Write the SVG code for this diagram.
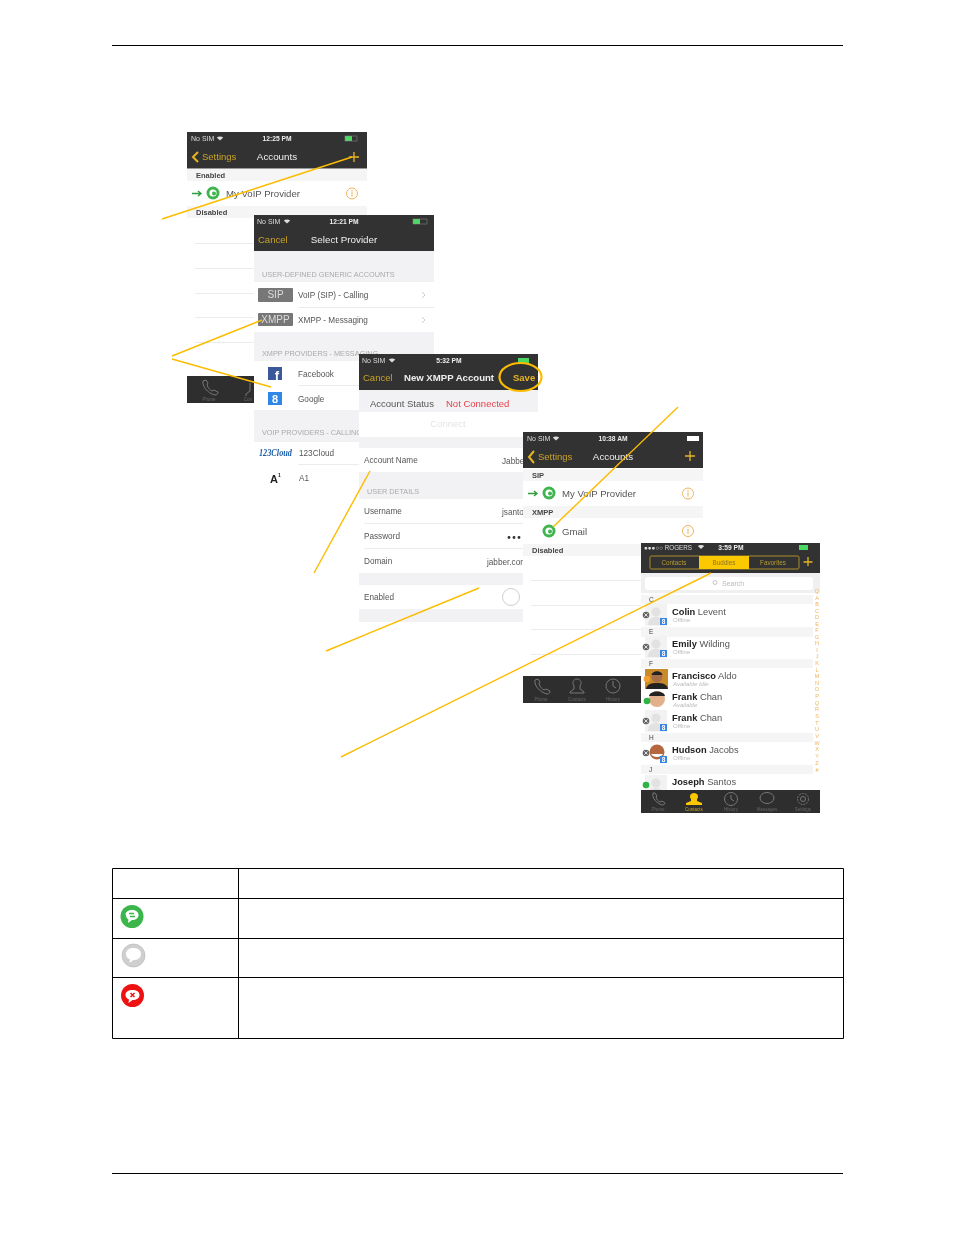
<svg xmlns="http://www.w3.org/2000/svg" xmlns:xlink="http://www.w3.org/1999/xlink" width="954" height="1235" viewBox="0 0 954 1235">
<style>
text{font-family:"Liberation Sans",Arial,sans-serif;fill:#444}
.st{font-size:7px;fill:#ddd}
.stb{font-size:6.700px;fill:#eee;font-weight:bold;text-anchor:middle}
.ti{font-size:9.800px;fill:#eee;text-anchor:middle}
.y{font-size:9.500px;fill:#c9a227}
.sec{font-size:7.500px;fill:#444;font-weight:bold}
.gh{font-size:7.300px;fill:#aaa}
.r{font-size:8.200px;fill:#555}
.rb{font-size:9.600px;fill:#555}
.tab{font-size:4.500px;fill:#666;text-anchor:middle}
.nm{font-size:9.300px;fill:#555}
.b{font-weight:bold;fill:#222}
.sub{font-size:6px;fill:#bbb}
.az{font-size:5.500px;fill:#f0b45a;text-anchor:middle}
.dark{fill:#333}
.bar{fill:#2e2e2e}
.sep{stroke:#ececec;stroke-width:1;fill:none}
.co{stroke:#fcbc00;stroke-width:1.400;fill:none}
.tb{stroke:#000;stroke-width:1;fill:none}
.ic{stroke:#777;stroke-width:1;fill:none}
.plus{stroke:#e6b422;stroke-width:1.300;fill:none}
.soft{filter:url(#soft)}
</style>
<defs>
<filter id="soft" x="-2%" y="-2%" width="104%" height="104%"><feGaussianBlur stdDeviation="0.35"/></filter>
<g id="wifi"><path d="M0 3L-3.200 0C-1.500-1.500 1.500-1.500 3.200 0Z" fill="#ddd"/></g>
<g id="info"><circle r="5.500" fill="#fff" stroke="#f2b25c" stroke-width="1"/><rect x="-.5" y="-2" width="1" height="5" fill="#f2b25c"/><rect x="-.5" y="-3.600" width="1" height="1" fill="#f2b25c"/></g>
<g id="gicon"><circle r="6.500" fill="#3fb44f"/><circle r="3.600" fill="#fff"/><circle cx="1" cy=".5" r="2" fill="#3fb44f"/></g>
<g id="avatar"><rect x="-11" y="-11" width="22" height="22" fill="#f2f2f2"/><circle cy="-3" r="4.500" fill="#e2e2e2"/><path d="M-8 10c0-6 4-8 8-8s8 2 8 8z" fill="#e2e2e2"/></g>
<g id="off"><circle r="3.300" fill="#666"/><path d="M-1.600-1.600l3.200 3.200M1.600-1.600l-3.200 3.200" stroke="#fff" stroke-width=".8"/></g>
<g id="gbadge"><rect width="7" height="7" fill="#3b86e0"/><text x="3.500" y="6" style="font-size:6.500px;fill:#fff;font-weight:bold;text-anchor:middle">8</text></g>
</defs>
<rect width="954" height="1235" fill="#fff"/>
<path d="M112 45.500H843M112 1173.500H843" stroke="#000" stroke-width="1"/>

<g id="screen-accounts-1" class="soft">
<rect x="187" y="132" width="180" height="36" class="dark"/>
<rect x="187" y="168" width="180" height="1" fill="#999"/>
<text class="st" x="191" y="141">No SIM</text>
<use xlink:href="#wifi" x="220" y="137.500"/>
<text class="stb" x="277" y="141">12:25 PM</text>
<rect x="345" y="136" width="7" height="5" fill="#4cd964"/><rect x="345" y="136" width="12" height="5" fill="none" stroke="#888" stroke-width=".5"/>
<path d="M198 152l-5 5 5 5" fill="none" stroke="#e6b422" stroke-width="2"/>
<text class="y" x="202" y="160">Settings</text>
<text class="ti" x="277" y="160">Accounts</text>
<path class="plus" d="M354 152v10M349 157h10"/>
<rect x="187" y="169" width="180" height="12" fill="#f5f5f5"/>
<text class="sec" x="196" y="178">Enabled</text>
<path d="M192 193.500h8M198 191l3 2.500-3 2.500" fill="none" stroke="#2e9e3e" stroke-width="1.400"/>
<use xlink:href="#gicon" x="213" y="193"/>
<text class="rb" x="226" y="197">My VoIP Provider</text>
<use xlink:href="#info" x="352" y="193.500"/>
<rect x="187" y="206" width="180" height="12" fill="#f5f5f5"/>
<text class="sec" x="196" y="215">Disabled</text>
<path class="sep" d="M195 243.500H254M195 268.500H254M195 293.500H254M195 317.500H254M195 342.500H254"/>
<rect x="187" y="376" width="67" height="27" class="bar"/>
<path class="ic" d="M203 381c-1 5 4 12 12 14 2 0 3-1 3-3l-4-2-2 1c-2-1-4-3-5-6l1-2-2-3z"/>
<text class="tab" x="209" y="401">Phone</text>
<path class="ic" d="M246 396v-2l4-3v-8"/>
<text class="tab" x="248" y="401">Con</text>
</g>

<g id="screen-select-provider" class="soft">
<rect x="254" y="215" width="180" height="300" fill="#fff"/>
<rect x="254" y="215" width="180" height="36" class="dark"/>
<rect x="254" y="251" width="180" height="31" fill="#f2f2f4"/>
<text class="st" x="257" y="224">No SIM</text>
<use xlink:href="#wifi" x="287" y="220.500"/>
<text class="stb" x="344" y="224">12:21 PM</text>
<rect x="413" y="219" width="7" height="5" fill="#4cd964"/><rect x="413" y="219" width="14" height="5" fill="none" stroke="#888" stroke-width=".5"/>
<text class="y" x="258" y="243">Cancel</text>
<text class="ti" x="344" y="243">Select Provider</text>
<text class="gh" x="262" y="277">USER-DEFINED GENERIC ACCOUNTS</text>
<rect x="258" y="288" width="35" height="14" rx="1" fill="#777"/>
<text x="275.500" y="298" style="font-size:10px;fill:#ddd;text-anchor:middle">SIP</text>
<text class="r" x="298" y="298">VoIP (SIP) - Calling</text>
<path d="M422 292l3 3-3 3" fill="none" stroke="#ccc"/>
<path class="sep" d="M298 307.500H434"/>
<rect x="258" y="313" width="35" height="13" rx="1" fill="#777"/>
<text x="275.500" y="323" style="font-size:10px;fill:#ddd;text-anchor:middle">XMPP</text>
<text class="r" x="298" y="323">XMPP - Messaging</text>
<path d="M422 317l3 3-3 3" fill="none" stroke="#ccc"/>
<rect x="254" y="332" width="180" height="29" fill="#f2f2f4"/>
<text class="gh" x="262" y="356">XMPP PROVIDERS - MESSAGING</text>
<rect x="268" y="367" width="14" height="13" fill="#3b5998"/>
<text x="277" y="380" style="font-size:13px;fill:#fff;font-weight:bold;text-anchor:middle">f</text>
<text class="r" x="298" y="377">Facebook</text>
<path class="sep" d="M298 385.500H434"/>
<rect x="268" y="392" width="14" height="13" fill="#2f86e6"/>
<text x="275" y="403" style="font-size:11px;fill:#fff;font-weight:bold;text-anchor:middle">8</text>
<text class="r" x="298" y="402">Google</text>
<rect x="254" y="410" width="180" height="32" fill="#f2f2f4"/>
<text class="gh" x="262" y="435">VOIP PROVIDERS - CALLING</text>
<text x="259" y="456" textLength="33" lengthAdjust="spacingAndGlyphs" style="font-size:9.500px;fill:#1f5fa8;font-style:italic;font-weight:bold;font-family:'Liberation Serif',serif">123Cloud</text>
<text class="r" x="299" y="456">123Cloud</text>
<path class="sep" d="M298 464.500H434"/>
<text x="270" y="483" style="font-size:11px;fill:#222;font-weight:bold">A</text>
<text x="278" y="477" style="font-size:5px;fill:#222;font-weight:bold">1</text>
<text class="r" x="299" y="481">A1</text>
</g>

<g id="screen-new-xmpp" class="soft">
<rect x="359" y="354" width="179" height="268" fill="#f2f2f4"/>
<rect x="359" y="354" width="179" height="36" class="dark"/>
<text class="st" x="362" y="363">No SIM</text>
<use xlink:href="#wifi" x="392" y="359.500"/>
<text class="stb" x="449" y="363">5:32 PM</text>
<rect x="518" y="358" width="11" height="5" fill="#4cd964"/>
<text class="y" x="363" y="381">Cancel</text>
<text class="ti" x="449" y="381" style="font-weight:600;font-size:9.600px">New XMPP Account</text>
<text class="y" x="513" y="381" style="font-weight:bold;fill:#e6b422">Save</text>
<text class="r" x="370" y="407" style="font-size:9.500px">Account Status</text>
<text class="r" x="446" y="407" style="font-size:9.500px;fill:#e8404a">Not Connected</text>
<rect x="359" y="412" width="179" height="25" fill="#fff"/>
<text x="448" y="427" style="font-size:9.500px;fill:#e4e4e4;text-anchor:middle">Connect</text>
<rect x="359" y="448" width="179" height="24" fill="#fff"/>
<text class="r" x="364" y="463">Account Name</text>
<text class="r" x="502" y="464">Jabber</text>
<text class="gh" x="367" y="494">USER DETAILS</text>
<rect x="359" y="499" width="179" height="74" fill="#fff"/>
<path class="sep" d="M364 523.500H538M364 548.500H538"/>
<text class="r" x="364" y="514">Username</text>
<text class="r" x="502" y="515">jsantos</text>
<text class="r" x="364" y="539">Password</text>
<circle cx="509" cy="537.500" r="1.400" fill="#333"/><circle cx="514" cy="537.500" r="1.400" fill="#333"/><circle cx="519" cy="537.500" r="1.400" fill="#333"/>
<text class="r" x="364" y="564">Domain</text>
<text class="r" x="487" y="565">jabber.com</text>
<rect x="359" y="585" width="179" height="24" fill="#fff"/>
<text class="r" x="364" y="600">Enabled</text>
<circle cx="511" cy="597" r="8.500" fill="#fff" stroke="#cfcfcf"/>
</g>

<g id="screen-accounts-2" class="soft">
<rect x="523" y="432" width="180" height="271" fill="#fff"/>
<rect x="523" y="432" width="180" height="36" class="dark"/>
<text class="st" x="527" y="441">No SIM</text>
<use xlink:href="#wifi" x="556" y="437.500"/>
<text class="stb" x="613" y="441">10:38 AM</text>
<rect x="687" y="436" width="12" height="5" fill="#fff"/>
<path d="M534 451l-5 6 5 6" fill="none" stroke="#e6b422" stroke-width="2"/>
<text class="y" x="538" y="460">Settings</text>
<text class="ti" x="613" y="460">Accounts</text>
<path class="plus" d="M690 451v10M685 456h10"/>
<rect x="523" y="469" width="180" height="12" fill="#f5f5f5"/>
<text class="sec" x="532" y="478">SIP</text>
<path d="M528 493.500h8M534 491l3 2.500-3 2.500" fill="none" stroke="#2e9e3e" stroke-width="1.400"/>
<use xlink:href="#gicon" x="549" y="493"/>
<text class="rb" x="562" y="497">My VoIP Provider</text>
<use xlink:href="#info" x="688" y="493.500"/>
<rect x="523" y="506" width="180" height="12" fill="#f5f5f5"/>
<text class="sec" x="532" y="515">XMPP</text>
<use xlink:href="#gicon" x="549" y="531"/>
<text class="rb" x="562" y="535">Gmail</text>
<use xlink:href="#info" x="688" y="531"/>
<rect x="523" y="544" width="118" height="12" fill="#f5f5f5"/>
<text class="sec" x="532" y="553">Disabled</text>
<path class="sep" d="M531 580.500H641M531 605.500H641M531 629.500H641M531 654.500H641"/>
<rect x="523" y="676" width="118" height="27" class="bar"/>
<path class="ic" d="M535 680c-1 5 4 12 12 14 2 0 3-1 3-3l-4-2-2 1c-2-1-4-3-5-6l1-2-2-3z"/>
<text class="tab" x="541" y="701">Phone</text>
<path class="ic" d="M570 693v-1l4-3v-3c-2-3-1-7 3-7s5 4 3 7v3l4 3v1z"/>
<text class="tab" x="577" y="701">Contacts</text>
<circle class="ic" cx="613" cy="686" r="7"/><path class="ic" d="M613 681v5l3 2"/>
<text class="tab" x="613" y="701">History</text>
</g>

<g id="screen-buddies" class="soft">
<rect x="641" y="543" width="179" height="270" fill="#fff"/>
<rect x="641" y="543" width="179" height="30" class="dark"/>
<text class="st" x="644" y="550" style="font-size:6.300px">●●●○○ ROGERS</text>
<use xlink:href="#wifi" x="701" y="546"/>
<text class="stb" x="731" y="550">3:59 PM</text>
<rect x="799" y="545" width="9" height="5" fill="#4cd964"/>
<rect x="650" y="556" width="149" height="13" rx="1.500" fill="#333" stroke="#c9a227" stroke-width=".8"/>
<rect x="699" y="556" width="50" height="13" fill="#fcc800"/>
<text x="674" y="565" style="font-size:6.300px;fill:#b59a30;text-anchor:middle">Contacts</text>
<text x="724" y="565" style="font-size:6.300px;fill:#8a7420;text-anchor:middle">Buddies</text>
<text x="773" y="565" style="font-size:6.300px;fill:#b59a30;text-anchor:middle">Favorites</text>
<path class="plus" d="M808 557v9M803.500 562h9"/>
<rect x="641" y="573" width="179" height="20" fill="#f0f0f2"/>
<rect x="645" y="577" width="168" height="13" rx="3" fill="#fff"/>
<circle cx="715" cy="582.500" r="2" fill="none" stroke="#aaa" stroke-width=".7"/>
<text x="722" y="586" style="font-size:7px;fill:#bbb">Search</text>
<g id="bands" fill="#f5f5f5"><rect x="641" y="595" width="172" height="9"/><rect x="641" y="627" width="172" height="10"/><rect x="641" y="659" width="172" height="9"/><rect x="641" y="733" width="172" height="9"/><rect x="641" y="765" width="172" height="9"/></g>
<g style="font-size:6.500px"><text x="649" y="602" style="fill:#444">C</text><text x="649" y="634" style="fill:#444">E</text><text x="649" y="666" style="fill:#444">F</text><text x="649" y="740" style="fill:#444">H</text><text x="649" y="772" style="fill:#444">J</text></g>
<use xlink:href="#avatar" x="656" y="615"/><use xlink:href="#off" x="646" y="615"/><use xlink:href="#gbadge" x="660" y="618"/>
<text class="nm" x="672" y="615"><tspan class="b">Colin</tspan> Levent</text><text class="sub" x="673" y="622">Offline</text>
<use xlink:href="#avatar" x="656" y="647"/><use xlink:href="#off" x="646" y="647"/><use xlink:href="#gbadge" x="660" y="650"/>
<text class="nm" x="672" y="647"><tspan class="b">Emily</tspan> Wilding</text><text class="sub" x="673" y="654">Offline</text>
<rect x="645" y="669" width="23" height="20" fill="#c98a2a"/><circle cx="657" cy="677" r="5.500" fill="#a8704a"/><path d="M651.500 675c1-5 10-5 11 0z" fill="#222"/><path d="M646 689c1-5 5-6 11-6s10 1 11 6z" fill="#222"/><circle cx="647" cy="679" r="3.300" fill="#f0a030"/>
<text class="nm" x="672" y="679"><tspan class="b">Francisco</tspan> Aldo</text><text class="sub" x="673" y="686" style="font-style:italic">Available Idle</text>
<circle cx="657" cy="699" r="8" fill="#e3b08c"/><path d="M649 696c1-6 15-6 16 0z" fill="#222"/><circle cx="647" cy="701" r="3.300" fill="#2fb344"/>
<text class="nm" x="672" y="700"><tspan class="b">Frank</tspan> Chan</text><text class="sub" x="673" y="707" style="font-style:italic">Available</text>
<use xlink:href="#avatar" x="656" y="721"/><use xlink:href="#off" x="646" y="721"/><use xlink:href="#gbadge" x="660" y="724"/>
<text class="nm" x="672" y="721"><tspan class="b">Frank</tspan> Chan</text><text class="sub" x="673" y="728">Offline</text>
<circle cx="657" cy="752" r="7.500" fill="#b5683f"/><path d="M651 754c2 4 10 4 12 0z" fill="#fff"/><use xlink:href="#off" x="646" y="753"/><use xlink:href="#gbadge" x="660" y="756"/>
<text class="nm" x="672" y="753"><tspan class="b">Hudson</tspan> Jacobs</text><text class="sub" x="673" y="760">Offline</text>
<use xlink:href="#avatar" x="656" y="786"/><circle cx="646" cy="785" r="3.300" fill="#2fb344"/>
<text class="nm" x="672" y="785"><tspan class="b">Joseph</tspan> Santos</text>
<g id="index">
<text class="az" x="817" y="593">Q</text><text class="az" x="817" y="600">A</text><text class="az" x="817" y="606">B</text><text class="az" x="817" y="613">C</text><text class="az" x="817" y="619">D</text><text class="az" x="817" y="626">E</text><text class="az" x="817" y="632">F</text><text class="az" x="817" y="639">G</text><text class="az" x="817" y="645">H</text><text class="az" x="817" y="652">I</text><text class="az" x="817" y="658">J</text><text class="az" x="817" y="665">K</text><text class="az" x="817" y="672">L</text><text class="az" x="817" y="678">M</text><text class="az" x="817" y="685">N</text><text class="az" x="817" y="691">O</text><text class="az" x="817" y="698">P</text><text class="az" x="817" y="705">Q</text><text class="az" x="817" y="711">R</text><text class="az" x="817" y="718">S</text><text class="az" x="817" y="725">T</text><text class="az" x="817" y="731">U</text><text class="az" x="817" y="738">V</text><text class="az" x="817" y="745">W</text><text class="az" x="817" y="751">X</text><text class="az" x="817" y="758">Y</text><text class="az" x="817" y="765">Z</text><text class="az" x="817" y="772">#</text>
</g>
<rect x="641" y="790" width="179" height="23" class="bar"/>
<path class="ic" d="M653 793c-1 5 3 10 9 12 2 0 3-1 3-2l-3-2-2 1c-2-1-3-2-4-5l1-1-2-3z"/>
<text class="tab" x="658" y="811">Phone</text>
<path d="M686 805v-2l5-2v-2c-2-2-1-6 3-6s5 4 3 6v2l5 2v2z" fill="#fcc800"/>
<text class="tab" x="694" y="811" style="fill:#c9a227">Contacts</text>
<circle class="ic" cx="731" cy="799" r="6.500"/><path class="ic" d="M731 795v4l3 2"/>
<text class="tab" x="731" y="811">History</text>
<ellipse class="ic" cx="767" cy="798" rx="7" ry="5.500"/>
<text class="tab" x="767" y="811">Messages</text>
<circle class="ic" cx="803" cy="799" r="5.500" stroke-dasharray="2 1"/><circle class="ic" cx="803" cy="799" r="2.500"/>
<text class="tab" x="803" y="811">Settings</text>
</g>

<g id="connectors">
<path class="co" d="M162 219L352 157"/>
<path class="co" d="M172 356L262 320"/>
<path class="co" d="M172 359L271 387"/>
<path class="co" d="M314 573L370 471"/>
<path class="co" d="M326 651L479 588"/>
<path class="co" d="M678 407L553 527"/>
<path class="co" d="M341 757L711 573"/>
<ellipse cx="520.500" cy="377" rx="21" ry="14" fill="none" stroke="#fcbc00" stroke-width="2.200"/>
</g>

<g id="status-table">
<path class="tb" d="M112.500 868.500H843.500V1038.500H112.500ZM112.500 898.500H843.500M112.500 938.500H843.500M112.500 977.500H843.500M238.500 868.500V1038.500"/>
<g id="icon-available"><circle cx="132" cy="916.500" r="11.500" fill="#3cb54a"/><path d="M125.500 915c0-3.500 3-5 6.500-5s6.500 1.500 6.500 5-3 5-6.500 5l-4 3 .5-3.500c-1.500-1-2.500-2.500-2.500-4.500z" fill="#fff"/><path d="M129 913.500h5M135 916.500h-5" stroke="#3cb54a" stroke-width="1.300"/></g>
<g id="icon-offline"><circle cx="133.500" cy="955.500" r="11.500" fill="#cfcfcf" stroke="#b5b5b5" stroke-width=".6"/><path d="M126 954c0-4 3.500-6 7.500-6s7.500 2 7.500 6-3.500 6-7.500 6l-4 3 .5-3.500c-2.500-1-4-3-4-5.500z" fill="#fff"/></g>
<g id="icon-error"><circle cx="132.500" cy="995.500" r="11.500" fill="#ee1111"/><path d="M125.500 995c0-3.500 3-5 7-5s7 1.500 7 5-3 5-7 5l-4 3 .5-3.500c-2-1-3.500-2.500-3.500-4.500z" fill="#fff"/><path d="M130.500 993l4 4M134.500 993l-4 4" stroke="#ee1111" stroke-width="1.500"/></g>
</g>
</svg>
